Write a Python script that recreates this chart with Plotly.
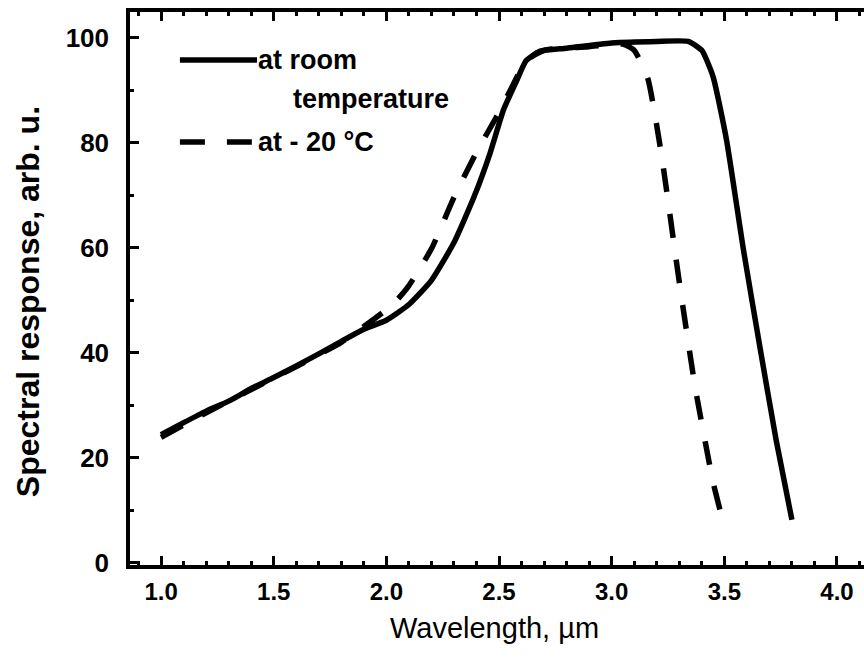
import plotly.graph_objects as go

# Room-temperature spectral response (solid)
room_wavelength = [1.00, 1.10, 1.20, 1.30, 1.40, 1.50, 1.60, 1.70, 1.80, 1.90, 2.00, 2.10,
                   2.20, 2.30, 2.39, 2.46, 2.52, 2.58, 2.62, 2.68, 2.80, 3.00, 3.20, 3.34,
                   3.40, 3.45, 3.51, 3.585, 3.66, 3.73, 3.80]
room_response = [24.4, 26.7, 28.9, 30.8, 33.2, 35.3, 37.5, 39.8, 42.2, 44.5, 46.2, 49.2,
                 53.8, 61.0, 69.8, 78.0, 86.3, 92.0, 95.6, 97.4, 98.0, 99.0, 99.3, 99.3,
                 97.6, 92.6, 80.5, 59.6, 40.6, 23.4, 8.2]

# -20 C spectral response (dashed)
cold_wavelength = [1.00, 1.20, 1.40, 1.60, 1.80, 1.90, 2.00, 2.05, 2.10, 2.20, 2.30, 2.40,
                   2.50, 2.55, 2.62, 2.70, 2.90, 3.05, 3.10, 3.16, 3.22, 3.30, 3.37, 3.45, 3.50]
cold_response = [23.9, 28.6, 33.0, 37.4, 42.0, 45.0, 48.2, 50.2, 52.8, 59.8, 69.6, 78.2,
                 85.8, 90.0, 95.6, 97.6, 98.3, 98.8, 97.6, 92.3, 78.0, 53.5, 33.6, 15.4, 6.9]

x_ticks = [1.0, 1.5, 2.0, 2.5, 3.0, 3.5, 4.0]
y_ticks = [0, 20, 40, 60, 80, 100]

legend_room = ["at room", "temperature"]
legend_cold = "at - 20 °C"
x_title = "Wavelength, µm"
y_title = "Spectral response, arb. u."

FONT = "Arial, Liberation Sans, sans-serif"
X_RANGE = [0.862, 4.12]
Y_RANGE = [-0.4, 104.9]

fig = go.Figure()
fig.add_trace(go.Scatter(x=room_wavelength, y=room_response, mode="lines",
                         line=dict(color="black", width=5.5, shape="spline", smoothing=0.5),
                         showlegend=False, hoverinfo="skip"))
fig.add_trace(go.Scatter(x=cold_wavelength, y=cold_response, mode="lines",
                         line=dict(color="black", width=5.5, dash="24px,22px",
                                   shape="spline", smoothing=0.5),
                         showlegend=False, hoverinfo="skip"))

# Legend samples
fig.add_shape(type="line", xref="paper", yref="paper", x0=0.068, x1=0.173, y0=0.913, y1=0.913,
              line=dict(color="black", width=5.5))
fig.add_shape(type="line", xref="paper", yref="paper", x0=0.068, x1=0.166, y0=0.765, y1=0.765,
              line=dict(color="black", width=5.5, dash="25px,22px"))
LEG_FONT = dict(family=FONT, size=27, color="black", weight="bold")
fig.add_annotation(xref="paper", yref="paper", x=0.172, y=0.913, text=legend_room[0],
                   showarrow=False, xanchor="left", yanchor="middle", font=LEG_FONT)
fig.add_annotation(xref="paper", yref="paper", x=0.219, y=0.842, text=legend_room[1],
                   showarrow=False, xanchor="left", yanchor="middle", font=LEG_FONT)
fig.add_annotation(xref="paper", yref="paper", x=0.172, y=0.765, text=legend_cold,
                   showarrow=False, xanchor="left", yanchor="middle", font=LEG_FONT)

# Axis titles
fig.add_annotation(xref="paper", yref="paper", x=0.497, y=-0.114, text=x_title,
                   showarrow=False, xanchor="center", yanchor="middle",
                   font=dict(family=FONT, size=29, color="black"))
fig.add_annotation(xref="paper", yref="paper", x=-0.139, y=0.477, text=y_title,
                   showarrow=False, xanchor="center", yanchor="middle", textangle=-90,
                   font=dict(family=FONT, size=32, color="black", weight="bold"))

fig.update_layout(
    width=864, height=668,
    margin=dict(l=130, r=0, t=12, b=103),
    paper_bgcolor="white", plot_bgcolor="white",
    font=dict(family=FONT, color="black"),
    xaxis=dict(
        range=X_RANGE, tickvals=x_ticks, ticktext=[f"{v:.1f}" for v in x_ticks],
        showgrid=False, zeroline=False,
        showline=True, linecolor="black", linewidth=3.5, mirror="allticks",
        ticks="inside", ticklen=9, tickwidth=3, tickcolor="black",
        minor=dict(dtick=0.1, tick0=1.0, ticks="inside", ticklen=4, tickwidth=3,
                   tickcolor="black", showgrid=False),
        tickfont=dict(family=FONT, size=24, weight="bold"),
        ticklabelstandoff=2,
    ),
    yaxis=dict(
        range=Y_RANGE, tickvals=y_ticks,
        showgrid=False, zeroline=False,
        showline=True, linecolor="black", linewidth=3.5, mirror=False,
        ticks="inside", ticklen=9, tickwidth=3, tickcolor="black",
        minor=dict(dtick=10, tick0=0, ticks="inside", ticklen=4, tickwidth=3,
                   tickcolor="black", showgrid=False),
        tickfont=dict(family=FONT, size=26, weight="bold"),
        ticklabelstandoff=12,
    ),
    yaxis2=dict(
        range=Y_RANGE, overlaying="y", side="right", anchor="x",
        tickvals=y_ticks, showticklabels=False,
        showgrid=False, zeroline=False, showline=False,
        ticks="inside", ticklen=9, tickwidth=3, tickcolor="black",
        minor=dict(dtick=10, tick0=0, ticks="inside", ticklen=4, tickwidth=3,
                   tickcolor="black", showgrid=False),
    ),
)

fig.write_html("out.html", config={"displayModeBar": False},
               post_script="document.body.style.margin='0';document.body.style.overflow='hidden';")
